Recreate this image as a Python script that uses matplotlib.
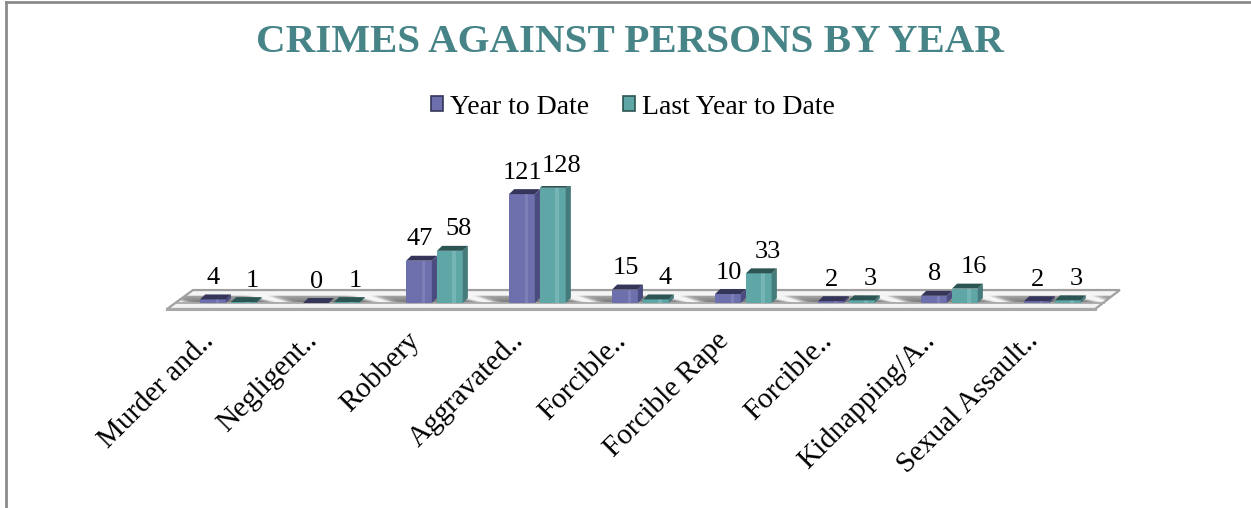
import numpy as np
import matplotlib
matplotlib.use("Agg")
from matplotlib import pyplot as plt
from matplotlib.patches import Polygon, Patch
from matplotlib.lines import Line2D

plt.rcParams['font.family'] = ['Liberation Serif', 'DejaVu Serif']

# data
categories = ['Murder and..', 'Negligent..', 'Robbery', 'Aggravated..', 'Forcible..',
              'Forcible Rape', 'Forcible..', 'Kidnapping/A..', 'Sexual Assault..']
year_to_date = [4, 0, 47, 121, 15, 10, 2, 8, 2]
last_year_to_date = [1, 1, 58, 128, 4, 33, 3, 16, 3]
series_names = ['Year to Date', 'Last Year to Date']

W, H = 1251, 508
fig = plt.figure(figsize=(W/100, H/100), dpi=100)

# frame lines (top and left)
fig.add_artist(Line2D([6/W, 1], [1-2/H, 1-2/H], color='#8c8c8c', lw=2))
fig.add_artist(Line2D([6/W, 6/W], [0, 1-2/H], color='#8c8c8c', lw=2))

# 103 px per category, 0.9 px per unit
ax = fig.add_axes([149.6/W, (H-321)/H, 988.8/W, 135/H])
ax.set_xlim(-0.8, 8.8)
ax.set_ylim(-20, 130)
ax.axis('off')

# floor
floor = [(-0.631, -6.7), (-0.379, 14.4), (8.62, 14.4), (8.38, -6.7)]
poly = Polygon(floor, closed=True, facecolor='none', edgecolor='#a0a0a0', lw=1.6, zorder=2)
ax.add_patch(poly)
gx = np.linspace(-0.7, 8.7, 800)
gy = np.linspace(-6.7, 14.4, 80)
X, Y = np.meshgrid(gx, gy)
tex = np.full_like(X, 0.96)
inband = (Y >= 0) & (Y <= 8)
shade = 0.45 + 0.2 * (Y / 8.0)
streak = np.zeros_like(X)
for k in range(-1, 10):
    streak += 0.55 * np.exp(-((X - (k + 0.5) + 0.03 * Y) / 0.1) ** 2)
tex = np.where(inband, np.clip(shade + streak, 0, 0.96), tex)
tex = np.where(Y < 0, 0.95, tex)
im = ax.imshow(tex, cmap='gray', vmin=0, vmax=1, origin='lower',
               extent=(gx[0], gx[-1], gy[0], gy[-1]), aspect='auto', zorder=1)
im.set_clip_path(poly)
ax.plot([-0.55, 8.47], [0, 0], color='#a8a8a8', lw=1.3, zorder=2)
ax.plot([floor[0][0], floor[3][0]], [floor[0][1], floor[3][1]], color='#a8a8a8', lw=2.2, zorder=2)

x = np.arange(len(categories))
bw = 0.25
d = 0.05   # depth to the right
c = 5.5    # depth upward

styles = [
    dict(front='#6e6fad', light='#8a8bc2', top='#35355a', side='#4a4b7e', off=-0.185, loff=-0.02),
    dict(front='#5fa6a7', light='#86c0c0', top='#2c5452', side='#467b7b', off=0.115, loff=0.06),
]

for vals, st in zip([year_to_date, last_year_to_date], styles):
    bars = ax.bar(x + st['off'], vals, width=bw, color=st['front'], zorder=3, linewidth=0)
    for b, v in zip(bars, vals):
        x0 = b.get_x()
        x1 = x0 + b.get_width()
        h = b.get_height()
        # highlight strip
        ax.add_patch(Polygon([(x0 + 0.6*bw, 0), (x0 + 0.6*bw, h), (x0 + 0.75*bw, h), (x0 + 0.75*bw, 0)],
                             facecolor=st['light'], alpha=0.6, lw=0, zorder=3))
        ax.add_patch(Polygon([(x1, 0), (x1, h), (x1 + d, h + c), (x1 + d, c)],
                             facecolor=st['side'], lw=0, zorder=3))
        ax.add_patch(Polygon([(x0, h), (x0 + d, h + c), (x1 + d, h + c), (x1, h)],
                             facecolor=st['top'], lw=0, zorder=3))
        ax.text(x0 + (bw + d) / 2 + st['loff'], h + c + 6, str(v), ha='center', va='bottom',
                fontsize=19, color='black', zorder=5, clip_on=False)

# category labels
for i, lab in enumerate(categories):
    ax.text(i - 0.3, -0.05, lab, transform=ax.get_xaxis_transform(), rotation=45,
            rotation_mode='anchor', ha='right', va='top', fontsize=21, clip_on=False)

# title and legend
fig.text(630/W, 1 - 43/H, 'CRIMES AGAINST PERSONS BY YEAR', ha='center', va='center',
         fontsize=29.5, fontweight='bold', color='#468487')
handles = [Patch(facecolor=styles[0]['front'], edgecolor='#35355a', lw=1.2),
           Patch(facecolor=styles[1]['front'], edgecolor='#2c5452', lw=1.2)]
fig.legend(handles, series_names, loc='center', bbox_to_anchor=(633/W, 1 - 107/H), ncol=2,
           frameon=False, fontsize=20, handlelength=0.45, handleheight=0.45,
           handletextpad=0.25, columnspacing=1.2)

fig.savefig('out.png', dpi=100)
